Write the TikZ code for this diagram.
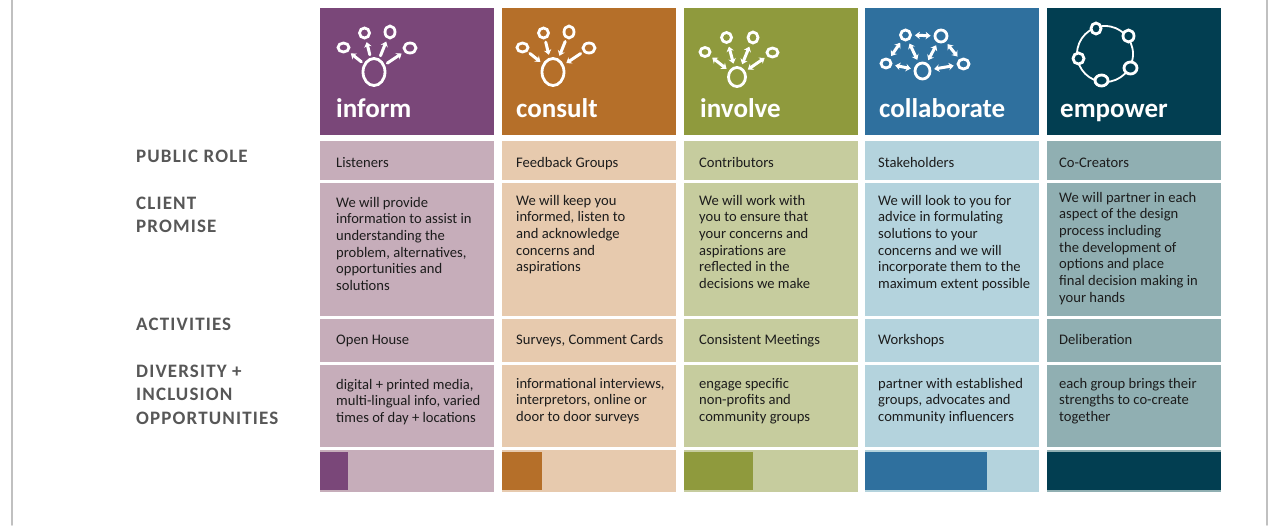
\documentclass[tikz,border=0pt]{standalone}
\usepackage{fontspec}
\setmainfont{Carlito}
\newfontfamily\rowfont[LetterSpace=6]{Carlito}
\usepackage{tikz}
\usetikzlibrary{arrows.meta,shapes.geometric}

\definecolor{informD}{HTML}{7A4779}
\definecolor{informL}{HTML}{C6ADBA}
\definecolor{consultD}{HTML}{B56F29}
\definecolor{consultL}{HTML}{E7CAAE}
\definecolor{involveD}{HTML}{8F9A3D}
\definecolor{involveL}{HTML}{C6CC9E}
\definecolor{collabD}{HTML}{2F709E}
\definecolor{collabL}{HTML}{B4D3DD}
\definecolor{empowerD}{HTML}{023E51}
\definecolor{empowerL}{HTML}{90AFB2}
\definecolor{labgray}{HTML}{575757}
\definecolor{ink}{HTML}{1C1C1C}
\definecolor{rulegray}{HTML}{C0C0C0}

\begin{document}
\begin{tikzpicture}[x=1pt,y=-1pt,>={Stealth[length=5pt,width=7.5pt]},line cap=round]
	\useasboundingbox (0,0) rectangle (1276,525);
	\tikzset{rowlab/.style={anchor=base west,align=left,inner sep=0pt,text=labgray,font=\rowfont\bfseries\fontsize{19}{23.7}\selectfont}}
	\tikzset{head/.style={anchor=base west,inner sep=0pt,text=white,font=\bfseries\fontsize{27}{27}\selectfont}}
	\tikzset{body/.style={anchor=base west,align=left,inner sep=0pt,text=ink,font=\fontsize{14.6}{16.7}\selectfont}}
	\tikzset{bub/.style 2 args={ellipse,draw=white,line width=2.8pt,inner sep=0pt,minimum width=#1,minimum height=#2}}
	\tikzset{arr/.style={white,line width=3pt,shorten <=3pt,shorten >=3pt}}
	
	\draw[rulegray,line width=1.5pt] (12,0) -- (12,525);
	\draw[rulegray,line width=1.5pt] (1267,0) -- (1267,525);
	
	\foreach \i/\dark/\light/\bar in {0/informD/informL/28,1/consultD/consultL/40,2/involveD/involveL/69,3/collabD/collabL/122,4/empowerD/empowerL/174}{
		\pgfmathsetmacro{\xa}{320+181.75*\i}
		\fill[\dark] (\xa,8) rectangle ++(174,127);
		\fill[\light] (\xa,141) rectangle ++(174,39);
		\fill[\light] (\xa,183) rectangle ++(174,133);
		\fill[\light] (\xa,319) rectangle ++(174,43);
		\fill[\light] (\xa,365) rectangle ++(174,82);
		\fill[\light] (\xa,450) rectangle ++(174,42);
		\fill[\dark] (\xa,452) rectangle ++(\bar,38);
	}
	
	\node[rowlab] (lrole) at (136,162) {PUBLIC ROLE};
	\node[rowlab] (lpromise) at (136,209+23.7) {CLIENT\\PROMISE};
	\node[rowlab] (lact) at (136,330) {ACTIVITIES};
	\node[rowlab] (ldiv) at (136,377+2*23.7) {DIVERSITY +\\INCLUSION\\OPPORTUNITIES};
	
	\node[head] (hinform) at (336,117) {inform};
	\node[head] (hconsult) at (516,117) {consult};
	\node[head] (hinvolve) at (700,117) {involve};
	\node[head] (hcollab) at (879,117) {collaborate};
	\node[head] (hempower) at (1060,117) {empower};
	
	\foreach \dx/\pre/\tip in {0/inf/->,179/con/<-}{
		\node[bub={22}{27}] (\pre0) at (374+\dx,72) {};
		\node[bub={11}{9}] (\pre1) at (343.5+\dx,47.5) {};
		\node[bub={10}{10}] (\pre2) at (364.5+\dx,33) {};
		\node[bub={10}{12}] (\pre3) at (390+\dx,32) {};
		\node[bub={12}{10}] (\pre4) at (410+\dx,48) {};
		\foreach \k in {1,...,4}
			\draw[arr,\tip] (\pre0) -- (\pre\k);
	}
	
	\node[bub={17}{19}] (inv0) at (737,77) {};
	\node[bub={10}{9}] (inv1) at (705,52) {};
	\node[bub={10}{10}] (inv2) at (726.5,37.5) {};
	\node[bub={10}{11}] (inv3) at (753,37.5) {};
	\node[bub={11}{9}] (inv4) at (772.5,52.5) {};
	\foreach \k in {1,...,4}
		\draw[arr,<->] (inv0) -- (inv\k);
	
	\node[bub={15}{16}] (colB) at (922.5,71) {};
	\node[bub={10}{10}] (colTL) at (905.5,35) {};
	\node[bub={12}{12}] (colTR) at (941,36) {};
	\node[bub={10}{9}] (colL) at (886,63.5) {};
	\node[bub={11}{10}] (colR) at (963.5,64) {};
	\path[arr,<->]
	(colTL) edge (colTR)
	(colTL) edge (colL)
	(colTL) edge (colB)
	(colTR) edge (colB)
	(colTR) edge (colR)
	(colL)  edge (colB)
	(colB)  edge (colR);
	
	\coordinate (ring) at (1105,54);
	\draw[white,line width=1.8pt] (ring) circle[radius=28pt];
	\tikzset{every node/.style={fill=empowerD}}
	\node[bub={10}{11}] (emp1) at (1096,28.5) {};
	\node[bub={11}{12}] (emp2) at (1128.5,36) {};
	\node[bub={11}{11}] (emp3) at (1078.5,58.5) {};
	\node[bub={13}{12}] (emp4) at (1130.5,68) {};
	\node[bub={13}{11}] (emp5) at (1101.5,80.5) {};
	\tikzset{every node/.style={}}
	
	\node[body] (r1) at (336,167) {Listeners};
	\node[body] (r2) at (516,167) {Feedback Groups};
	\node[body] (r3) at (699,167) {Contributors};
	\node[body] (r4) at (878,167) {Stakeholders};
	\node[body] (r5) at (1059,167) {Co-Creators};
	
	\node[body] (p1) at (336,207+5*16.7) {We will provide\\information to assist in\\understanding the\\problem, alternatives,\\opportunities and\\solutions};
	\node[body] (p2) at (516,205+4*16.7) {We will keep you\\informed, listen to\\and acknowledge\\concerns and\\aspirations};
	\node[body] (p3) at (699,205+5*16.7) {We will work with\\you to ensure that\\your concerns and\\aspirations are\\reflected in the\\decisions we make};
	\node[body] (p4) at (878,205+5*16.7) {We will look to you for\\advice in formulating\\solutions to your\\concerns and we will\\incorporate them to the\\maximum extent possible};
	\node[body] (p5) at (1059,202+6*16.7) {We will partner in each\\aspect of the design\\process including\\the development of\\options and place\\final decision making in\\your hands};
	
	\node[body] (a1) at (336,344) {Open House};
	\node[body] (a2) at (516,344) {Surveys, Comment Cards};
	\node[body] (a3) at (699,344) {Consistent Meetings};
	\node[body] (a4) at (878,344) {Workshops};
	\node[body] (a5) at (1059,344) {Deliberation};
	
	\node[body] (d1) at (336,389+2*16.7) {digital + printed media,\\multi-lingual info, varied\\times of day + locations};
	\node[body] (d2) at (516,388+2*16.7) {informational interviews,\\interpretors, online or\\door to door surveys};
	\node[body] (d3) at (699,388+2*16.7) {engage specific\\non-profits and\\community groups};
	\node[body] (d4) at (878,388+2*16.7) {partner with established\\groups, advocates and\\community influencers};
	\node[body] (d5) at (1059,388+2*16.7) {each group brings their\\strengths to co-create\\together};
\end{tikzpicture}
\end{document}
